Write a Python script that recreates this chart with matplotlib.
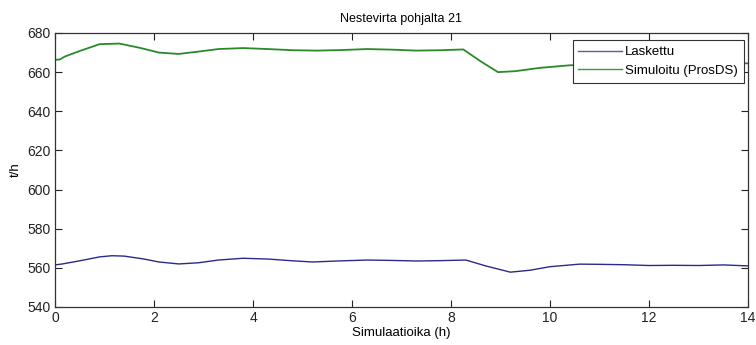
import matplotlib
matplotlib.use("Agg")
import matplotlib.pyplot as plt

# Flow rate data (t/h) vs simulation time (h)
time_calc = [0.0, 0.15, 0.5, 0.9, 1.15, 1.4, 1.8, 2.1, 2.5, 2.9, 3.3, 3.8, 4.3, 4.8, 5.2, 5.7,
             6.3, 6.8, 7.3, 7.8, 8.3, 8.7, 9.2, 9.6, 10.0, 10.6, 11.0, 11.5, 12.0, 12.5, 13.0, 13.5, 14.0]
flow_calc = [561.5, 562.0, 563.6, 565.6, 566.2, 566.0, 564.5, 563.0, 562.0, 562.6, 564.0, 564.9, 564.5, 563.6, 563.0, 563.5,
             564.0, 563.8, 563.5, 563.7, 564.0, 561.0, 557.8, 558.8, 560.6, 561.9, 561.8, 561.6, 561.2, 561.3, 561.2, 561.5, 561.0]

time_sim = [0.0, 0.1, 0.2, 0.5, 0.9, 1.3, 1.7, 2.1, 2.5, 2.9, 3.3, 3.8, 4.3, 4.8, 5.3, 5.8,
            6.3, 6.8, 7.3, 7.8, 8.25, 8.6, 8.95, 9.3, 9.8, 10.4, 11.0, 11.6, 12.2, 12.8, 13.4, 14.0]
flow_sim = [666.3, 666.5, 668.0, 670.8, 674.3, 674.6, 672.5, 670.0, 669.3, 670.5, 671.8, 672.3, 671.8, 671.2, 671.0, 671.3,
            671.8, 671.5, 671.0, 671.2, 671.6, 665.5, 660.0, 660.5, 662.2, 663.5, 664.0, 664.2, 664.3, 664.4, 664.5, 664.5]

labels = ["Laskettu", "Simuloitu (ProsDS)"]
title = "Nestevirta pohjalta 21"
xlabel = "Simulaatioika (h)"
ylabel = "t/h"

plt.rcParams["font.family"] = ["Liberation Sans", "DejaVu Sans"]

fig = plt.figure(figsize=(7.56, 3.45), dpi=100)
ax = fig.add_axes([55 / 756, 1 - 307 / 345, (748 - 55) / 756, (307 - 33) / 345])

ax.plot(time_calc, flow_calc, color="#2a2a8a", lw=1.0, label=labels[0])
ax.plot(time_sim, flow_sim, color="#2a8a2a", lw=1.3, label=labels[1])

ax.set_xlim(0, 14)
ax.set_ylim(540, 680)
ax.set_xticks(range(0, 15, 2))
ax.set_yticks(range(540, 681, 20))
ax.tick_params(direction="in", top=True, right=True, length=5, width=0.8,
               labelsize=10, colors="#222222", pad=3)
for s in ax.spines.values():
    s.set_linewidth(0.9)
    s.set_color("#333333")

ax.set_title(title, fontsize=9, pad=8)
ax.set_xlabel(xlabel, fontsize=9.5, labelpad=1)
ax.set_ylabel(ylabel, fontsize=9.5, labelpad=4)

leg = ax.legend(loc="upper right", bbox_to_anchor=((744 - 55) / 693, (307 - 40) / 274),
                fontsize=9.5, fancybox=False, framealpha=1,
                edgecolor="#333333", handlelength=3.3, borderaxespad=0,
                borderpad=0.45, labelspacing=0.5, handletextpad=0.25)
leg.get_frame().set_linewidth(0.8)
for line, c in zip(leg.get_lines(), ["#5a5aa8", "#3c9a3c"]):
    line.set_color(c)
    line.set_linewidth(1.0)

fig.savefig("out.png", dpi=100)
